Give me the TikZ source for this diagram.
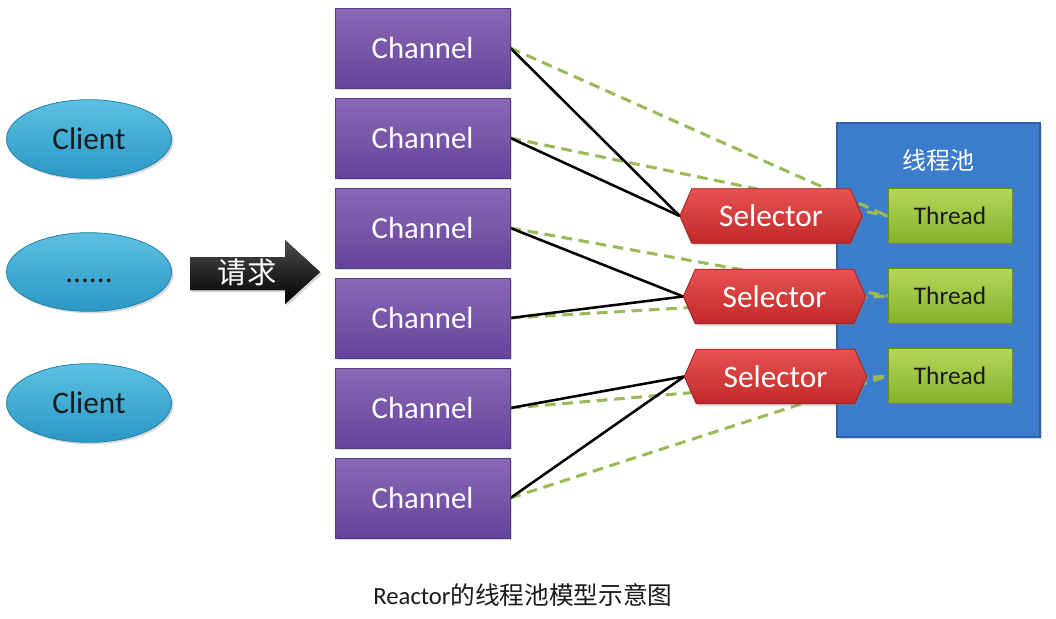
\documentclass[tikz,border=0pt]{standalone}
\usepackage{fontspec}
\setmainfont{Carlito}
\newfontfamily\cjk{Noto Sans CJK SC}
\usetikzlibrary{shapes.geometric,shadows,calc}
\pgfdeclarelayer{back}
\pgfdeclarelayer{mid}
\pgfdeclarelayer{shape}
\pgfsetlayers{back,mid,shape,main}
\definecolor{chanT}{HTML}{8A68B6}
\definecolor{chanBot}{HTML}{65439A}
\definecolor{chanD}{HTML}{553A7E}
\definecolor{cliT}{HTML}{5CC0E2}
\definecolor{cliBot}{HTML}{2A98C4}
\definecolor{cliD}{HTML}{2482A8}
\definecolor{selT}{HTML}{E85252}
\definecolor{selBot}{HTML}{C22828}
\definecolor{selD}{HTML}{9E1E1E}
\definecolor{thrT}{HTML}{B4D85A}
\definecolor{thrBot}{HTML}{86B02C}
\definecolor{thrD}{HTML}{6A8C20}
\definecolor{poolC}{HTML}{3C7CCC}
\definecolor{poolD}{HTML}{2D62A6}
\definecolor{dashG}{HTML}{9BBB59}
\definecolor{txtD}{HTML}{1A1A1A}
\begin{document}
\begin{tikzpicture}[x=0.75pt,y=-0.75pt,
  shade/.style={drop shadow={shadow xshift=1.5pt,shadow yshift=-1.5pt,opacity=0.3}},
  chan/.style={rectangle,draw=chanD,line width=0.6pt,top color=chanT,bottom color=chanBot,
    minimum width=131.25pt,minimum height=60pt,text=white,font=\fontsize{23}{27}\selectfont,shade},
  cli/.style={ellipse,draw=cliD,line width=0.6pt,top color=cliT,bottom color=cliBot,
    minimum width=123.75pt,minimum height=59pt,text=txtD,font=\fontsize{23.5}{27}\selectfont,shade},
  sel/.style={rectangle,minimum width=118.5pt,minimum height=40.5pt,text=white,inner sep=0pt,
    font=\fontsize{23.5}{27}\selectfont},
  selfill/.style={draw=selD,line width=0.6pt,top color=selT,bottom color=selBot,shade},
  thr/.style={rectangle,draw=thrD,line width=0.6pt,top color=thrT,bottom color=thrBot,
    minimum width=93pt,minimum height=41.25pt,text=txtD,font=\fontsize{19}{22}\selectfont,shade},
  link/.style={black,line width=1.9pt},
  dlink/.style={dashG,line width=2.3pt,dash pattern=on 8pt off 5pt}
]
\useasboundingbox (0,0) rectangle (1056,618);
\begin{pgfonlayer}{back}
  \fill[white] (0,0) rectangle (1056,618);
  \fill[poolC,draw=poolD,line width=0.8pt,shade] (837,123) rectangle (1040,437);
\end{pgfonlayer}
\node[text=white,font=\cjk\fontsize{18}{22}\selectfont] (pool) at (938,160) {线程池};

% clients
\node[cli] (cl1) at (89,139) {Client};
\node[cli] (cl2) at (89,272) {\vphantom{Client}......};
\node[cli] (cl3) at (89,403) {Client};

% request arrow
\fill[top color=black!70,bottom color=black,shade]
  (190,257) -- (285,257) -- (285,240) -- (320,272) -- (285,304) -- (285,290) -- (190,290) -- cycle;
\node[text=white,font=\cjk\fontsize{22}{26}\selectfont] (req) at (247,272) {请求};

% channels
\node[chan] (c1) at (422.5,48) {Channel};
\node[chan] (c2) at (422.5,138) {Channel};
\node[chan] (c3) at (422.5,228) {Channel};
\node[chan] (c4) at (422.5,318) {Channel};
\node[chan] (c5) at (422.5,408) {Channel};
\node[chan] (c6) at (422.5,498) {Channel};

% selectors
\node[sel] (s1) at (771,216) {Selector};
\node[sel] (s2) at (774.5,296.5) {Selector};
\node[sel] (s3) at (775.5,376.5) {Selector};
\foreach \s in {s1,s2,s3}{
  \coordinate (\s tip) at ($(\s.west)+(-12,0)$);
  \begin{pgfonlayer}{shape}
    \path[selfill] (\s tip) -- (\s.north west) -- (\s.north east) -- ($(\s.east)+(12,0)$)
      -- (\s.south east) -- (\s.south west) -- cycle;
  \end{pgfonlayer}
}

% threads
\node[thr] (t1) at (950,216) {Thread};
\node[thr] (t2) at (950,296) {Thread};
\node[thr] (t3) at (950,376) {Thread};

% connectors
\begin{pgfonlayer}{mid}
  \draw[dlink] (c1.east) -- (t1.west);
  \draw[dlink] (c2.east) -- (t1.west);
  \draw[dlink] (c3.east) -- (t2.west);
  \draw[dlink] (c4.east) -- (t2.west);
  \draw[dlink] (c5.east) -- (t3.west);
  \draw[dlink] (c6.east) -- (t3.west);
  \draw[link] (c1.east) -- (s1tip);
  \draw[link] (c2.east) -- (s1tip);
  \draw[link] (c3.east) -- (s2tip);
  \draw[link] (c4.east) -- (s2tip);
  \draw[link] (c5.east) -- (s3tip);
  \draw[link] (c6.east) -- (s3tip);
\end{pgfonlayer}

% caption
\node[text=txtD,font=\fontsize{18.5}{22}\selectfont] (cap) at (523,595) {Reactor{\cjk 的线程池模型示意图}};
\end{tikzpicture}
\end{document}
